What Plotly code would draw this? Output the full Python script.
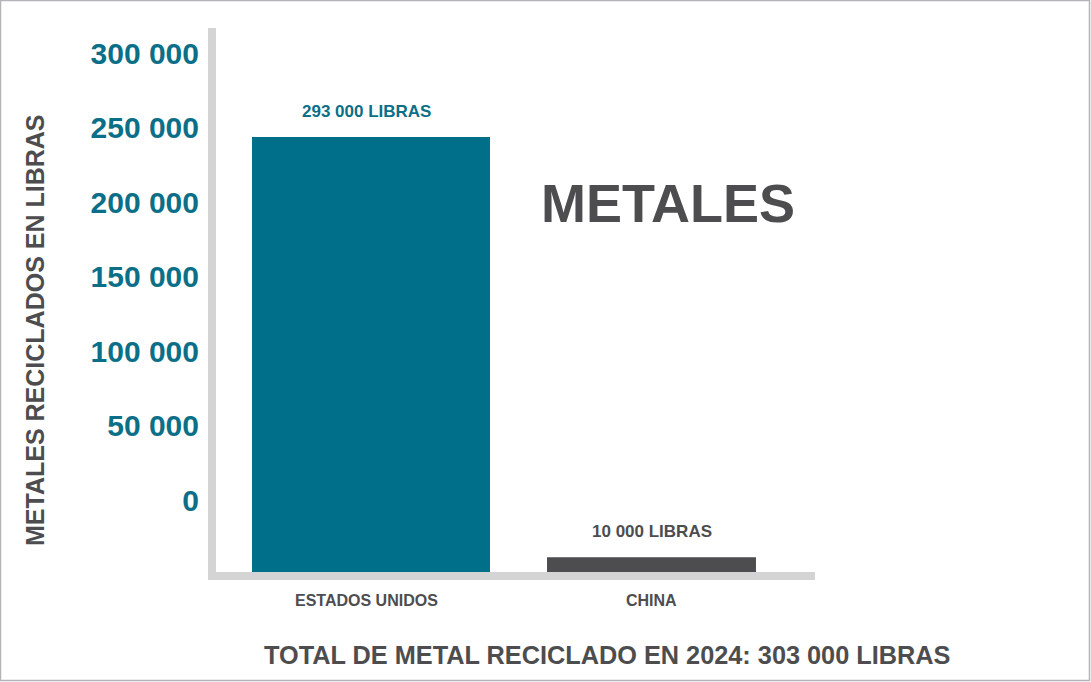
import plotly.graph_objects as go

# ---- data ----
countries = ["ESTADOS UNIDOS", "CHINA"]
pounds = [293000, 10000]
value_labels = ["293 000 LIBRAS", "10 000 LIBRAS"]
tick_values = [0, 50000, 100000, 150000, 200000, 250000, 300000]
tick_labels = ["0", "50 000", "100 000", "150 000", "200 000", "250 000", "300 000"]
chart_title = "METALES"
y_title = "METALES RECICLADOS EN LIBRAS"
x_title = "TOTAL DE METAL RECICLADO EN 2024: 303 000 LIBRAS"

# ---- style ----
TEAL = "#006F8A"
TEAL_TXT = "#0B6F88"
GRAY = "#4D4D4F"
AXIS = "#D4D4D4"
FONT = "Liberation Sans, Arial, Helvetica, sans-serif"
bar_colors = [TEAL, GRAY]
label_colors = [TEAL_TXT, GRAY]
bar_widths = [0.8485, 0.745]
label_xshift = [-5, 0]

W, H = 1091, 682
L, R, T, B = 216, 276, 28, 110
pw, ph = W - L - R, H - T - B


def px(x):
    return (x - L) / pw


def py(y):
    return (H - B - y) / ph


fig = go.Figure()
fig.add_trace(go.Bar(
    x=countries, y=pounds, width=bar_widths,
    marker=dict(color=bar_colors, line=dict(width=0)),
    hoverinfo="skip", showlegend=False,
))
# invisible trace so the label axis is drawn
fig.add_trace(go.Scatter(x=[countries[0]], y=[0], yaxis="y2", mode="markers",
                         marker=dict(opacity=0), hoverinfo="skip", showlegend=False))

fig.update_layout(
    width=W, height=H,
    margin=dict(l=L, r=R, t=T, b=B, pad=0),
    paper_bgcolor="white", plot_bgcolor="white",
    font=dict(family=FONT, color=GRAY),
    xaxis=dict(
        type="category", range=[-0.5526, 1.5829],
        showline=True, linewidth=8, linecolor=AXIS,
        showgrid=False, zeroline=False, showticklabels=False, ticks="",
    ),
    yaxis=dict(
        range=[0, 366400],
        showline=True, linewidth=8, linecolor=AXIS,
        showgrid=False, zeroline=False, showticklabels=False, ticks="",
    ),
    yaxis2=dict(
        overlaying="y", side="left", anchor="x",
        range=[-48322, 316779],
        tickvals=tick_values, ticktext=tick_labels,
        ticks="outside", ticklen=10, tickcolor="rgba(0,0,0,0)",
        tickfont=dict(family=FONT, size=30, color=TEAL_TXT, weight="bold"),
        showgrid=False, zeroline=False, showline=False,
    ),
)

ann = []
for c, v, t, col, xs in zip(countries, pounds, value_labels, label_colors, label_xshift):
    ann.append(dict(x=c, y=v, xref="x", yref="y", text=t, showarrow=False,
                    yanchor="middle", yshift=25.5, xshift=xs,
                    font=dict(family=FONT, size=17, color=col, weight="bold")))
    ann.append(dict(x=c, y=0, xref="x", yref="paper", text=c, showarrow=False,
                    yanchor="middle", yshift=-28.5, xshift=xs,
                    font=dict(family=FONT, size=16, color=GRAY, weight="bold")))

ann.append(dict(x=px(667.5), y=py(203), xref="paper", yref="paper", text=chart_title,
                showarrow=False, xanchor="center", yanchor="middle",
                font=dict(family=FONT, size=54, color=GRAY, weight="bold")))
ann.append(dict(x=px(35), y=py(330), xref="paper", yref="paper", text=y_title,
                showarrow=False, textangle=-90, xanchor="center", yanchor="middle",
                font=dict(family=FONT, size=25, color=GRAY, weight="bold")))
ann.append(dict(x=px(607), y=py(655), xref="paper", yref="paper", text=x_title,
                showarrow=False, xanchor="center", yanchor="middle",
                font=dict(family=FONT, size=25.3, color=GRAY, weight="bold")))
fig.update_layout(annotations=ann)

# outer frame
fig.add_shape(type="rect", xref="paper", yref="paper",
              x0=px(0.5), x1=px(1089.5), y0=py(680.5), y1=py(0.5),
              line=dict(color="#B4B4B8", width=1.5), layer="below")

fig.write_html("out.html", config={"displayModeBar": False},
               post_script="document.body.style.margin='0';")
